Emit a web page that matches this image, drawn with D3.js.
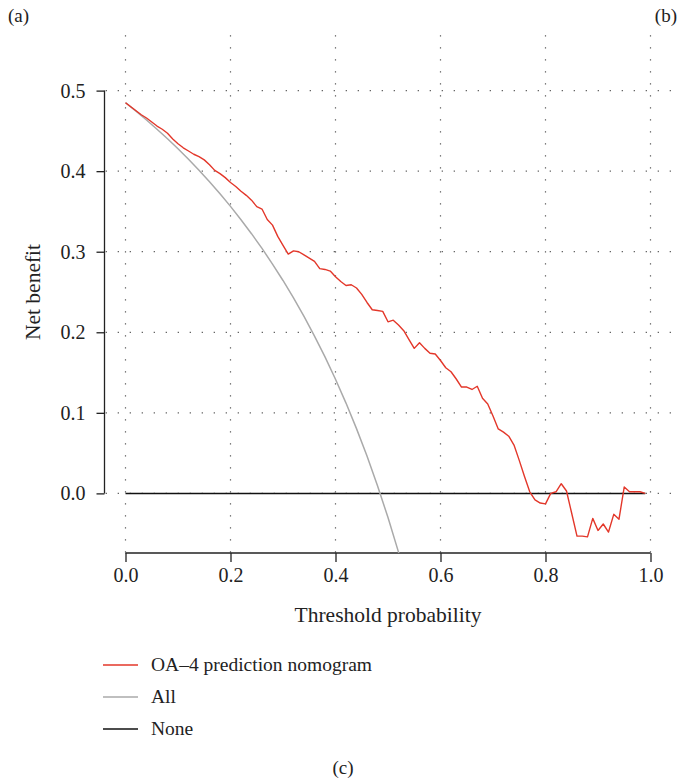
<!DOCTYPE html>
<meta charset="utf-8">
<style>
body { margin: 0; background: #fff; }
svg text { font-family: "Liberation Serif", "DejaVu Serif", serif; fill: #222; }
.grid line { stroke: #555; stroke-width: 1.2; stroke-dasharray: 1.2 10.8; }
.axis line, .axis path { stroke: #222; stroke-width: 1.3; }
</style>
<body>
<svg width="679" height="782" id="chart"></svg>
<script src="https://cdnjs.cloudflare.com/ajax/libs/d3/7.8.5/d3.min.js"></script>
<script>

// threshold probabilities for the model curve (0.00 .. 0.99)
var thresholds = d3.range(100).map(function(i) { return i / 100; });

// OA-4 prediction nomogram
var nomogram = [
  0.485, 0.480, 0.475, 0.470, 0.466, 0.461, 0.456, 0.452, 0.447, 0.440,
  0.434, 0.429, 0.425, 0.421, 0.418, 0.414, 0.408, 0.401, 0.397, 0.392,
  0.386, 0.381, 0.375, 0.370, 0.364, 0.356, 0.353, 0.340, 0.333, 0.319,
  0.308, 0.297, 0.301, 0.300, 0.296, 0.292, 0.288, 0.279, 0.278, 0.276,
  0.269, 0.263, 0.258, 0.259, 0.255, 0.247, 0.237, 0.228, 0.227, 0.226,
  0.213, 0.215, 0.209, 0.202, 0.191, 0.180, 0.187, 0.180, 0.174, 0.173,
  0.165, 0.156, 0.151, 0.142, 0.132, 0.132, 0.129, 0.133, 0.118, 0.111,
  0.096, 0.080, 0.076, 0.071, 0.060, 0.041, 0.021, 0.002, -0.008, -0.012,
  -0.013, 0.000, 0.002, 0.012, 0.003, -0.025, -0.053, -0.053, -0.054, -0.031,
  -0.046, -0.038, -0.048, -0.026, -0.032, 0.008, 0.002, 0.002, 0.002, 0.000
];

// "All" curve
var allX = [0, 0.02, 0.04, 0.06, 0.08, 0.10, 0.12, 0.14, 0.16, 0.18, 0.20, 0.22, 0.24, 0.26,
            0.28, 0.30, 0.32, 0.34, 0.36, 0.38, 0.40, 0.42, 0.44, 0.46, 0.48, 0.50, 0.52, 0.54];
var allY = [0.485, 0.4745, 0.4635, 0.4521, 0.4402, 0.4278, 0.4148, 0.4012, 0.3869, 0.3720,
            0.3563, 0.3397, 0.3224, 0.3041, 0.2847, 0.2643, 0.2427, 0.2197, 0.1953, 0.1694,
            0.1417, 0.1121, 0.0804, 0.0463, 0.0096, -0.030, -0.0729, -0.1196];

// "None" line
var noneX = [0, 0.99];
var noneY = [0, 0];

var xTicks = [0, 0.2, 0.4, 0.6, 0.8, 1.0];
var yTicks = [0, 0.1, 0.2, 0.3, 0.4, 0.5];

var legendLabels = ["OA\u20134 prediction nomogram", "All", "None"];
var legendColors = ["#e3372a", "#aaaaaa", "#111111"];

var svg = d3.select("#chart");

var x = d3.scaleLinear().domain([-0.04, 1.04]).range([104.5, 671.5]);
var y = d3.scaleLinear().domain([-0.074, 0.574]).range([553, 31]);

svg.append("defs").append("clipPath").attr("id", "plotclip")
  .append("rect")
    .attr("x", x.range()[0]).attr("y", y.range()[1])
    .attr("width", x.range()[1] - x.range()[0])
    .attr("height", y.range()[0] - y.range()[1]);

// dotted grid
var grid = svg.append("g").attr("class", "grid");
grid.selectAll(".vg").data(xTicks).enter().append("line")
    .attr("x1", function(d) { return x(d); }).attr("x2", function(d) { return x(d); })
    .attr("y1", y.range()[0]).attr("y2", y.range()[1])
    .style("stroke-dashoffset", 11.5);
grid.selectAll(".hg").data(yTicks).enter().append("line")
    .attr("x1", x.range()[0]).attr("x2", x.range()[1])
    .attr("y1", function(d) { return y(d); }).attr("y2", function(d) { return y(d); })
    .style("stroke-dashoffset", 10.8);

// axes
var xAxis = d3.axisBottom(x).tickValues(xTicks).tickSize(9).tickSizeOuter(0)
    .tickPadding(6).tickFormat(d3.format(".1f"));
var gx = svg.append("g").attr("class", "axis")
    .attr("transform", "translate(0," + y.range()[0] + ")")
    .call(xAxis);
gx.select(".domain").remove();
gx.append("line").attr("x1", x(0)).attr("x2", x(1));
gx.selectAll("text").style("font-size", "20px").attr("fill", "#222");

var yAxis = d3.axisLeft(y).tickValues(yTicks).tickSize(8).tickSizeOuter(0)
    .tickPadding(11).tickFormat(d3.format(".1f"));
var gy = svg.append("g").attr("class", "axis")
    .attr("transform", "translate(" + x.range()[0] + ",0)")
    .call(yAxis);
gy.select(".domain").remove();
gy.append("line").attr("y1", y(0)).attr("y2", y(0.5));
gy.selectAll("text").style("font-size", "20px").attr("fill", "#222");

// curves
var line = d3.line().x(function(d) { return x(d[0]); }).y(function(d) { return y(d[1]); });
var plot = svg.append("g").attr("clip-path", "url(#plotclip)");

plot.append("path").datum(d3.zip(noneX, noneY))
    .attr("d", line).attr("fill", "none")
    .attr("stroke", legendColors[2]).attr("stroke-width", 1.5);
plot.append("path").datum(d3.zip(allX, allY))
    .attr("d", line).attr("fill", "none")
    .attr("stroke", legendColors[1]).attr("stroke-width", 1.5);
plot.append("path").datum(d3.zip(thresholds, nomogram))
    .attr("d", line).attr("fill", "none")
    .attr("stroke", legendColors[0]).attr("stroke-width", 1.4)
    .attr("stroke-linejoin", "round");

// axis titles
svg.append("text")
    .attr("x", (x(0) + x(1)) / 2).attr("y", 622)
    .attr("text-anchor", "middle").style("font-size", "21.5px")
    .text("Threshold probability");
svg.append("text")
    .attr("transform", "translate(40," + (y.range()[0] + y.range()[1]) / 2 + ") rotate(-90)")
    .attr("text-anchor", "middle").style("font-size", "21.5px")
    .text("Net benefit");

// legend
var legend = svg.append("g").selectAll("g").data(legendLabels).enter().append("g")
    .attr("transform", function(d, i) { return "translate(103," + (665 + i * 32) + ")"; });
legend.append("line").attr("x1", 0).attr("x2", 35)
    .attr("stroke", function(d, i) { return legendColors[i]; }).attr("stroke-width", 1.5);
legend.append("text").attr("x", 48).attr("y", 6).style("font-size", "19.5px")
    .text(function(d) { return d; });

// panel letters
svg.append("text").attr("x", 8).attr("y", 22).style("font-size", "19px").text("(a)");
svg.append("text").attr("x", 677).attr("y", 22).attr("text-anchor", "end").style("font-size", "19px").text("(b)");
svg.append("text").attr("x", 343).attr("y", 774).attr("text-anchor", "middle").style("font-size", "19px").text("(c)");

</script>
</body>
